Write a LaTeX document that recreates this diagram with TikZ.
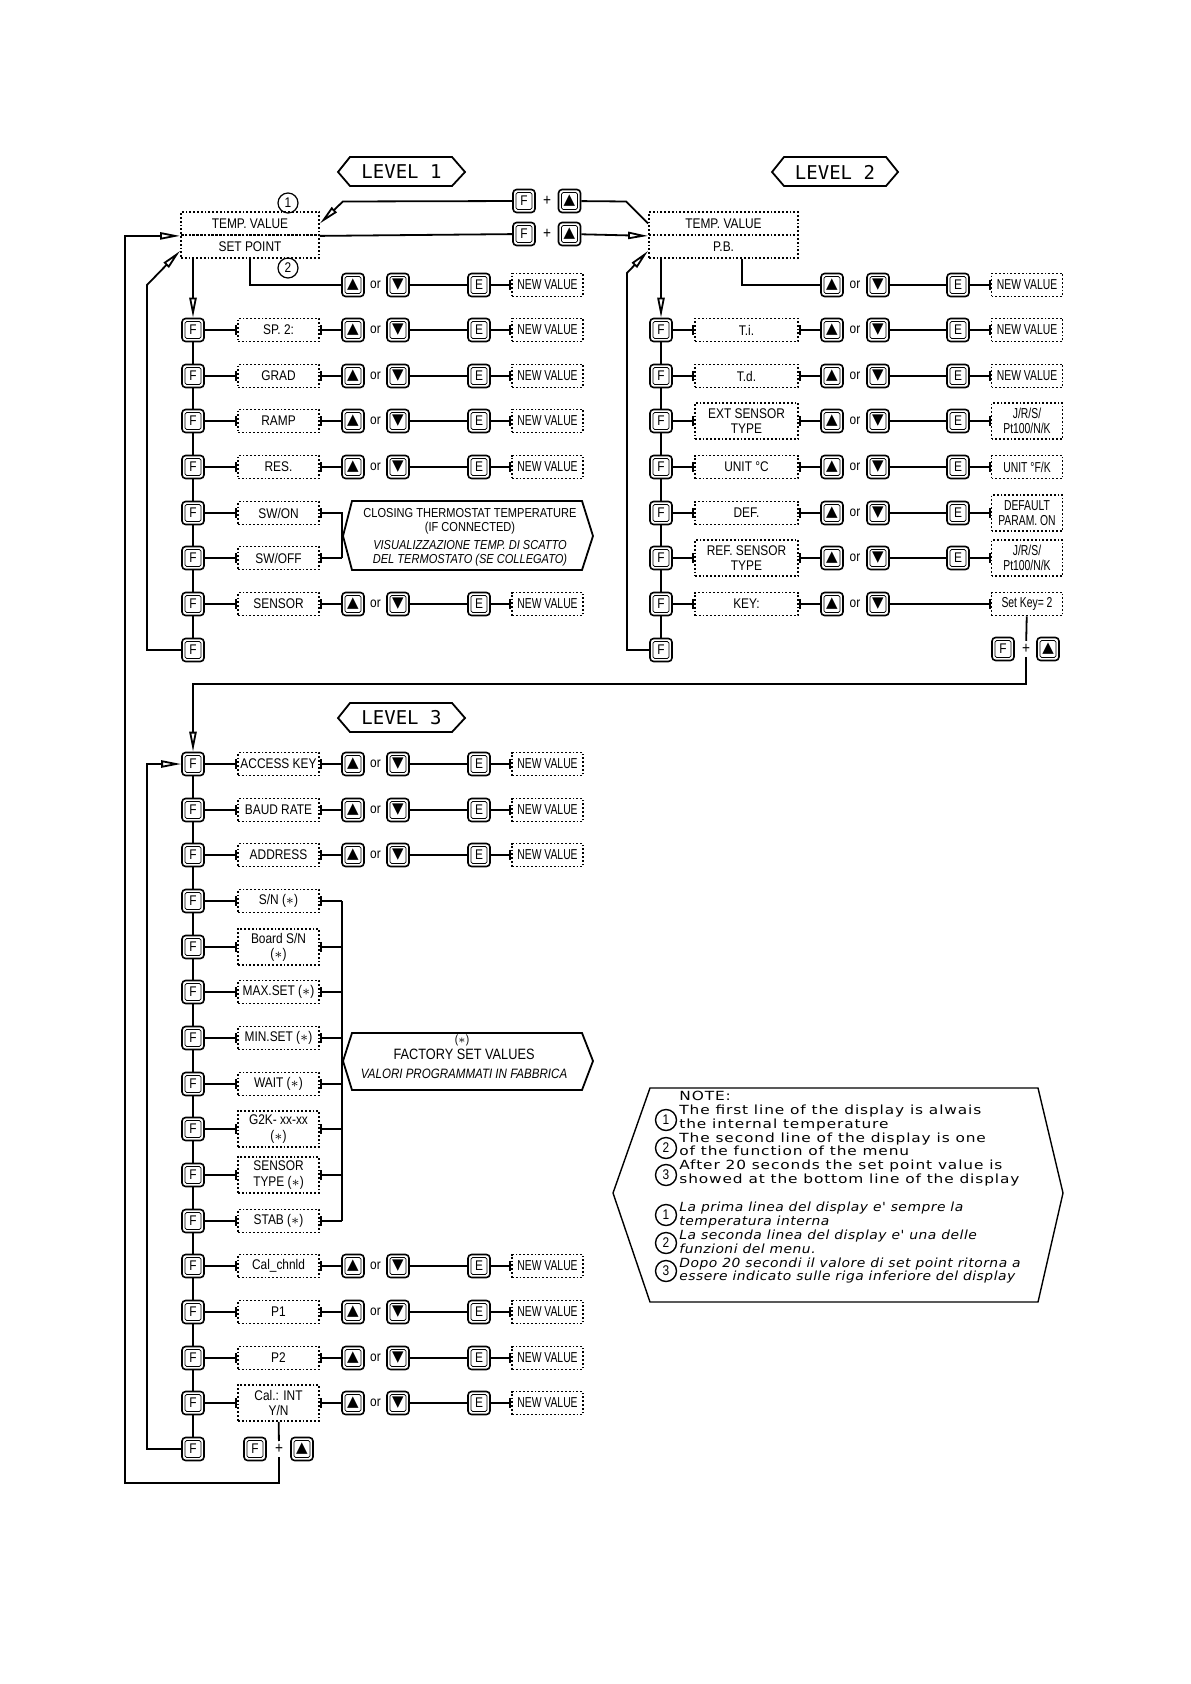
\documentclass[tikz,border=0pt]{standalone}
\usepackage{fontspec}
\setmainfont{Liberation Sans}[FakeStretch=0.85]
\newfontfamily\valfont{Liberation Sans}[FakeStretch=0.72]
\newfontfamily\levfont{DejaVu Sans Mono}
\newfontfamily\symfont{DejaVu Sans}
\newfontfamily\notefont{DejaVu Sans}[FakeStretch=1.22,LetterSpace=7]
\newfontfamily\notefontit{DejaVu Sans}[FakeStretch=1.1,LetterSpace=4]
\usepackage{tikz}
\usetikzlibrary{arrows.meta,positioning}

\begin{document}
\begin{tikzpicture}[x=0.5pt, y=-0.5pt,
    line/.style={line width=0.9pt},
    opena/.style={-{Triangle[open, length=10pt, width=3.6pt]}},
    tick/.style={-{Bar[width=5pt]}},
    btick/.style={{Bar[width=5pt]}-},
    btn/.style={draw, line width=0.8pt, rounded corners=1.8pt, fill=white, minimum width=11pt, minimum height=11.5pt, inner sep=0pt, font=\fontsize{7}{7}\selectfont,
      path picture={\draw[line width=0.35pt, rounded corners=0.8pt] ([shift={(1.5pt,1.5pt)}]path picture bounding box.south west) rectangle ([shift={(-1.5pt,-1.5pt)}]path picture bounding box.north east);}},
    arr/.style={btn, font=\symfont\fontsize{7.5}{7.5}\selectfont},
    lbl/.style={draw, densely dotted, line width=0.9pt, minimum width=40.5pt, minimum height=11.5pt, inner sep=1.2pt, align=center, font=\fontsize{7}{7.6}\selectfont},
    wide/.style={minimum width=51.5pt},
    tall/.style={minimum height=18pt},
    one/.style={},
    val/.style={lbl, minimum width=35.5pt, font=\valfont\fontsize{7.2}{7.6}\selectfont},
    txt/.style={font=\fontsize{7}{7}\selectfont, inner sep=1.5pt},
    num/.style={circle, draw, line width=0.6pt, minimum size=10pt, inner sep=0pt, font=\fontsize{7}{7}\selectfont},
    hexa/.style={line width=0.9pt},
    lvl/.style={font=\levfont\fontsize{9.5}{9.5}\selectfont},
  ]
  \useasboundingbox (0,0) rectangle (1190,1684);

  % level headers
  \node[lvl] (lev1) at (401.5,172) {LEVEL 1};
  \node[lvl] (lev2) at (835,172) {LEVEL 2};
  \node[lvl] (lev3) at (401.5,718) {LEVEL 3};
  \draw[hexa] (338,172) -- (350,157) -- (452,157) -- (465,172) -- (452,186) -- (350,186) -- cycle;
  \draw[hexa] (772,172) -- (784,157) -- (886,157) -- (898,172) -- (886,186) -- (784,186) -- cycle;
  \draw[hexa] (338,718) -- (350,703) -- (452,703) -- (465,718) -- (452,732) -- (350,732) -- cycle;

  % displays
  \node[lbl, minimum width=69pt] (tv1) at (250,223.5) {TEMP. VALUE};
  \node[lbl, minimum width=69pt] (sp1) at (250,246.5) {SET POINT};
  \node[num] (n1) at (288,203) {1};
  \node[num] (n2) at (288,268) {2};
  \node[lbl, minimum width=74.5pt] (tv2) at (723.5,223.5) {TEMP. VALUE};
  \node[lbl, minimum width=74.5pt] (sp2) at (723.5,246.5) {P.B.};

  % F + up between level 1 and level 2
  \node[btn] (fka) at (524,201) {F};
  \node[txt, font=\fontsize{8}{8}\selectfont] (pla) at (547,201) {+};
  \node[arr] (uka) at (569.5,201) {▲};
  \node[btn] (fkb) at (524,234) {F};
  \node[txt, font=\fontsize{8}{8}\selectfont] (plb) at (547,234) {+};
  \node[arr] (ukb) at (569.5,234) {▲};
  \draw[line] (tv2.west) -- ++(-22,-22) -- (uka);
  \draw[line, opena] (fka) -- ([shift={(23,-22)}]tv1.east) -- (tv1.east);
  \draw[line] (tv1.south east) -- (fkb);
  \draw[line, opena] (ukb) -- (tv2.south west);

  % level 1 menu
  \foreach \n/\y in {1/330,2/376,3/421,4/467,5/513,6/558,7/604,8/650}
    \node[btn] (fa\n) at (193,\y) {F};
  \foreach \n [remember=\n as \m (initially 1)] in {2,...,8}
    \draw[line] (fa\m) -- (fa\n);
  \foreach \n/\y/\lab in {1/330/{SP. 2:},2/376/GRAD,3/421/RAMP,4/467/RES.,5/513/{SW/ON},6/558/{SW/OFF},7/604/SENSOR} {
    \node[lbl] (la\n) at (278.5,\y) {\lab};
    \draw[line, tick] (fa\n) -- (la\n);
  }
  \foreach \n/\y in {0/285,1/330,2/376,3/421,4/467,7/604} {
    \node[arr] (ua\n) at (353,\y) {▲};
    \node[txt] (oa\n) at (375.5,\y) {or};
    \node[arr] (da\n) at (398,\y) {▼};
    \node[btn] (ea\n) at (479,\y) {E};
    \node[val] (va\n) at (547.5,\y) {NEW VALUE};
    \draw[line] (da\n) -- (ea\n);
    \draw[line, tick] (ea\n) -- (va\n);
  }
  \foreach \n in {1,2,3,4,7}
    \draw[line, btick] (la\n) -- (ua\n);
  \draw[line] (sp1.south) |- (ua0);
  \draw[line, opena] (sp1.south -| fa1) -- (fa1);
  \draw[line, opena] (fa8) -| (147,285) -- ([yshift=4pt]sp1.south west);

  % thermostat note
  \coordinate (brk) at (342,0);
  \draw[line, btick] (la5) -- (la5 -| brk) -- (la6 -| brk);
  \draw[line, tick] (la6 -| brk) -- (la6);
  \draw[hexa] (343,536) -- (352,501) -- (582,501) -- (593,536) -- (582,570) -- (352,570) -- cycle;
  \node[txt, align=center, font=\fontsize{6.5}{6.7}\selectfont] (clo) at (470,521.5) {CLOSING THERMOSTAT TEMPERATURE\\(IF CONNECTED)};
  \node[txt, align=center, font=\itshape\fontsize{6.5}{7}\selectfont] (vis) at (470,553) {VISUALIZZAZIONE TEMP. DI SCATTO\\DEL TERMOSTATO (SE COLLEGATO)};

  % level 2 menu
  \foreach \n/\y in {1/330,2/376,3/421,4/467,5/513,6/558,7/604,8/650}
    \node[btn] (fb\n) at (661,\y) {F};
  \foreach \n [remember=\n as \m (initially 1)] in {2,...,8}
    \draw[line] (fb\m) -- (fb\n);
  \foreach \n/\y/\lab/\s in {1/330/T.i./one,2/376/T.d./one,3/421/{EXT SENSOR\\TYPE}/tall,4/467/{UNIT °C}/one,5/513/DEF./one,6/558/{REF. SENSOR\\TYPE}/tall,7/604/KEY:/one} {
    \node[lbl, wide, \s] (lb\n) at (746.5,\y) {\lab};
    \draw[line, tick] (fb\n) -- (lb\n);
  }
  \foreach \n/\y in {0/285,1/330,2/376,3/421,4/467,5/513,6/558,7/604} {
    \node[arr] (ub\n) at (832,\y) {▲};
    \node[txt] (ob\n) at (855,\y) {or};
    \node[arr] (db\n) at (878,\y) {▼};
  }
  \foreach \n/\y/\v/\s in {0/285/{NEW VALUE}/one,1/330/{NEW VALUE}/one,2/376/{NEW VALUE}/one,3/421/{J/R/S/\\Pt100/N/K}/tall,4/467/{UNIT °F/K}/one,5/513/{DEFAULT\\PARAM. ON}/tall,6/558/{J/R/S/\\Pt100/N/K}/tall} {
    \node[btn] (eb\n) at (958,\y) {E};
    \node[val, \s] (vb\n) at (1027,\y) {\v};
    \draw[line] (db\n) -- (eb\n);
    \draw[line, tick] (eb\n) -- (vb\n);
  }
  \node[val] (vb7) at (1027,604) {Set Key= 2};
  \draw[line, tick] (db7) -- (vb7);
  \foreach \n in {1,...,7}
    \draw[line, btick] (lb\n) -- (ub\n);
  \draw[line] ([xshift=9.25pt]sp2.south) |- (ub0);
  \draw[line, opena] (sp2.south -| fb1) -- (fb1);
  \draw[line, opena] (fb8) -| (627,273) -- ([yshift=4pt]sp2.south west);

  % level 2 to level 3
  \node[btn] (fkd) at (1003,649) {F};
  \node[txt, font=\fontsize{8}{8}\selectfont] (pld) at (1026,649) {+};
  \node[arr] (ukd) at (1048,649) {▲};
  \draw[line] (vb7) -- (pld);

  % level 3 menu
  \foreach \n/\y in {0/764,1/810,2/855,3/901,4/947,5/992,6/1038,7/1084,8/1129,9/1175,10/1221,11/1266,12/1312,13/1358,14/1403,15/1449}
    \node[btn] (fc\n) at (193,\y) {F};
  \foreach \n [remember=\n as \m (initially 0)] in {1,...,15}
    \draw[line] (fc\m) -- (fc\n);
  \foreach \n/\y/\lab/\s in {0/764/{ACCESS KEY}/one,1/810/{BAUD RATE}/one,2/855/ADDRESS/one,3/901/{S/N ($\ast$)}/one,4/947/{Board S/N\\($\ast$)}/tall,5/992/{MAX.SET ($\ast$)}/one,6/1038/{MIN.SET ($\ast$)}/one,7/1084/{WAIT ($\ast$)}/one,8/1129/{G2K- xx-xx\\($\ast$)}/tall,9/1175/{SENSOR\\TYPE ($\ast$)}/tall,10/1221/{STAB ($\ast$)}/one,11/1266/{Cal\_chnld}/one,12/1312/P1/one,13/1358/P2/one,14/1403/{Cal.: INT\\Y/N}/tall} {
    \node[lbl, \s] (lc\n) at (278.5,\y) {\lab};
    \draw[line, tick] (fc\n) -- (lc\n);
  }
  \foreach \n/\y in {0/764,1/810,2/855,11/1266,12/1312,13/1358,14/1403} {
    \node[arr] (uc\n) at (353,\y) {▲};
    \node[txt] (oc\n) at (375.5,\y) {or};
    \node[arr] (dc\n) at (398,\y) {▼};
    \node[btn] (ec\n) at (479,\y) {E};
    \node[val] (vc\n) at (547.5,\y) {NEW VALUE};
    \draw[line, btick] (lc\n) -- (uc\n);
    \draw[line] (dc\n) -- (ec\n);
    \draw[line, tick] (ec\n) -- (vc\n);
  }
  \draw[line, opena] (pld) |- (193,684) -- (fc0);
  \draw[line, opena] (fc15) -| (147,764) -- (fc0);

  % factory values
  \foreach \n in {3,...,10}
    \draw[line, btick] (lc\n) -- (lc\n -| brk);
  \draw[line] (lc3 -| brk) -- (lc10 -| brk);
  \draw[hexa] (343,1061) -- (352,1033) -- (582,1033) -- (593,1061) -- (582,1090) -- (352,1090) -- cycle;
  \node[txt, font=\fontsize{6}{6}\selectfont] (ast) at (462,1040) {($\ast$)};
  \node[txt, font=\fontsize{7.5}{7.5}\selectfont] (fsv) at (464,1054) {FACTORY SET VALUES};
  \node[txt, font=\itshape\fontsize{6.8}{7}\selectfont] (vpf) at (464,1074) {VALORI PROGRAMMATI IN FABBRICA};

  % back to level 1
  \node[btn] (fkc) at (255,1449) {F};
  \node[txt, font=\fontsize{8}{8}\selectfont] (plc) at (279,1449) {+};
  \node[arr] (ukc) at (302,1449) {▲};
  \draw[line] (lc14) -- (plc);
  \draw[line, opena] (plc) |- (125,1483) |- (tv1.south west);

  % notes
  \draw[line width=0.7pt] (650,1088) -- (1038,1088) -- (1063,1193) -- (1038,1302) -- (650,1302) -- (613,1193) -- cycle;
  \node[anchor=north west, inner sep=0pt, align=left, font=\notefont\fontsize{6.3}{6.9}\selectfont] (noten) at (679,1091)
    {NOTE:\\The first line of the display is alwais\\the internal temperature\\The second line of the display is one\\of the function of the menu\\After 20 seconds the set point value is\\showed at the bottom line of the display};
  \node[anchor=north west, inner sep=0pt, align=left, font=\notefontit\itshape\fontsize{6.3}{6.9}\selectfont] (notei) at (679,1202)
    {La prima linea del display e' sempre la\\temperatura interna\\La seconda linea del display e' una delle\\funzioni del menu.\\Dopo 20 secondi il valore di set point ritorna a\\essere indicato sulle riga inferiore del display};
  \foreach \n/\y/\k in {a/1120/1,b/1148/2,c/1175/3,d/1215/1,e/1243/2,f/1271/3}
    \node[num, minimum size=10.5pt, line width=0.7pt] (nn\n) at (666,\y) {\k};
\end{tikzpicture}
\end{document}
